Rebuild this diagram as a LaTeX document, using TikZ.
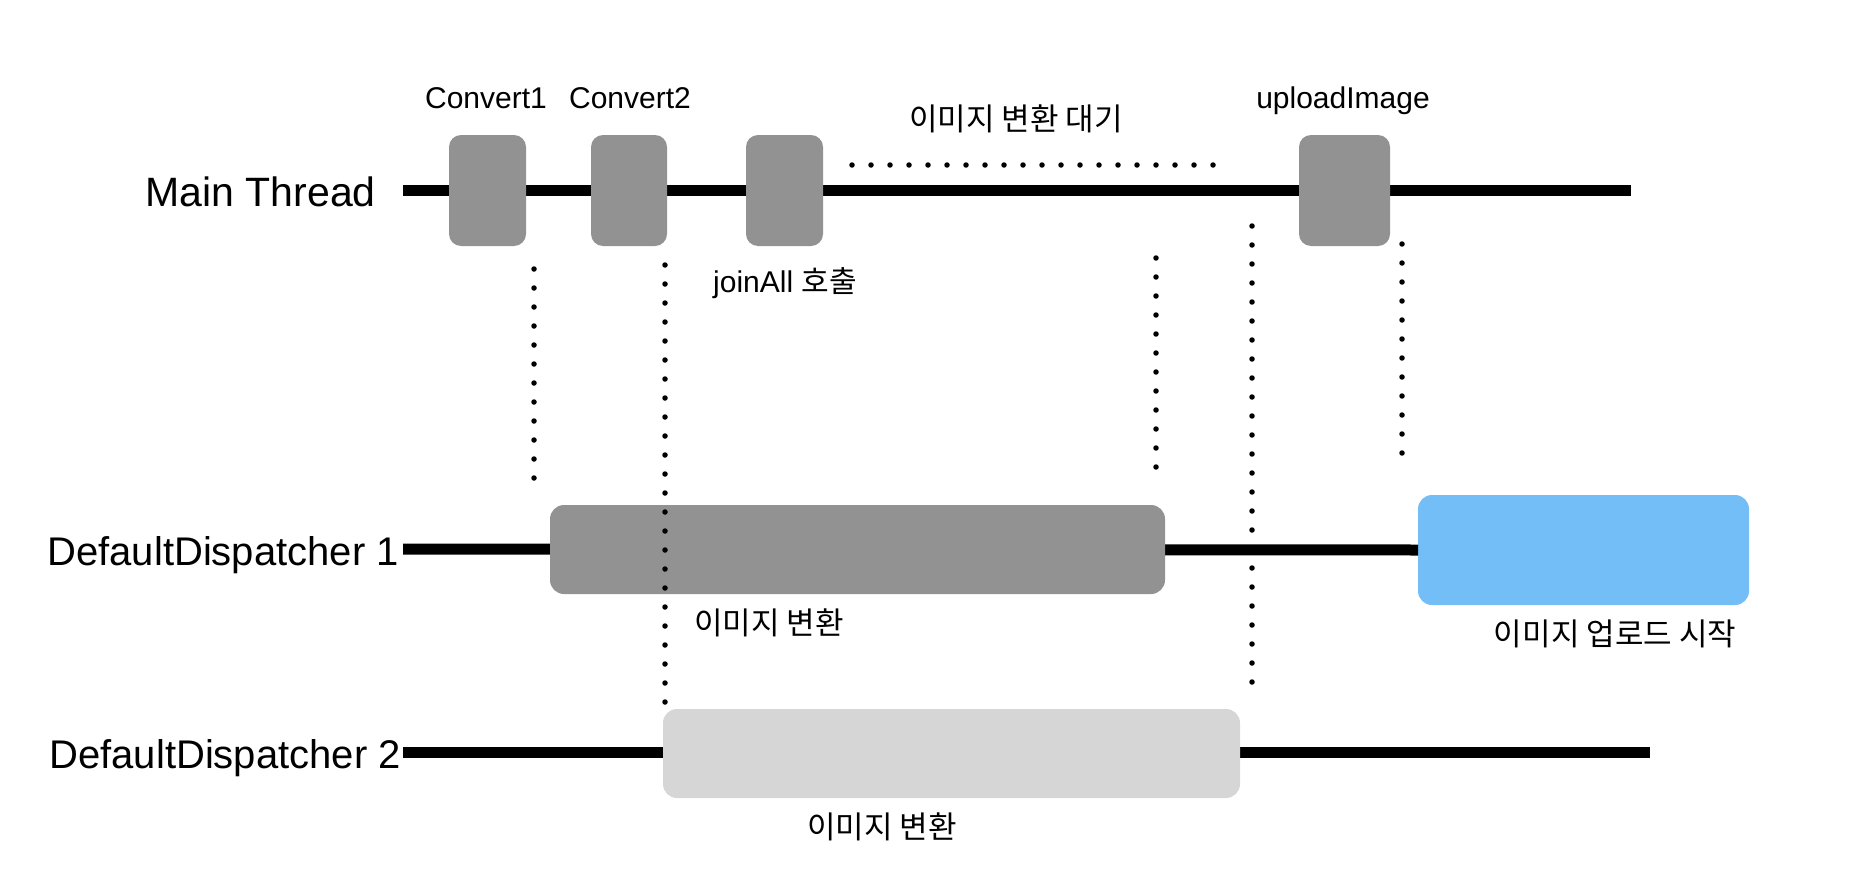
\documentclass[tikz,border=0pt]{standalone}
\usepackage{fontspec}
\setmainfont{Liberation Sans}
\newfontfamily\kr{Noto Sans CJK KR}
\definecolor{boxgray}{RGB}{146,146,146}
\definecolor{boxlight}{RGB}{214,214,214}
\definecolor{boxblue}{RGB}{115,190,247}
\begin{document}
\begin{tikzpicture}[x=1pt,y=-1pt,
  timeline/.style={line width=11pt},
  dotline/.style={line width=5.5pt,line cap=round,dash pattern=on 0pt off 19pt},
  task/.style={fill=boxgray,rounded corners=12pt,inner sep=0pt,outer sep=0pt},
  bigtask/.style={rounded corners=14pt,inner sep=0pt,outer sep=0pt},
  rowlabel/.style={font=\fontsize{40}{48}\selectfont,inner sep=0pt,anchor=base east},
  small/.style={font=\fontsize{30}{36}\selectfont,inner sep=0pt},
  krlabel/.style={font=\fontsize{31}{37}\selectfont\kr,inner sep=0pt}]
\useasboundingbox (0,0) rectangle (1852,878);

% timeline end points
\coordinate (mtS) at (403,190);
\coordinate (mtE) at (1631,190);
\coordinate (d1S) at (403,549);
\coordinate (d2S) at (403,752);
\coordinate (d2E) at (1650,752);

% row labels
\node[rowlabel,font=\fontsize{41}{49}\selectfont] (lmain) at (376,206) {Main Thread};
\node[rowlabel] (ld1) at (399,565) {DefaultDispatcher 1};
\node[rowlabel] (ld2) at (401,768) {DefaultDispatcher 2};

% boxes (nodes)
\node[bigtask,fill=boxblue,minimum width=331pt,minimum height=110pt] (upb) at (1583.5,550) {};

% timelines
\draw[timeline] (mtS) -- (mtE);
\draw[timeline] (d1S) -- (upb.west);
\draw[timeline] (d2S) -- (d2E);

\node[task,minimum width=77pt,minimum height=111pt] (c1) at (487.5,190.5) {};
\node[task,minimum width=76pt,minimum height=111pt] (c2) at (629,190.5) {};
\node[task,minimum width=77pt,minimum height=111pt] (ja) at (784.5,190.5) {};
\node[task,minimum width=91pt,minimum height=111pt] (ui) at (1344.5,190.5) {};
\node[bigtask,fill=boxgray,minimum width=615pt,minimum height=89pt] (g1) at (857.5,549.5) {};
\node[bigtask,fill=boxlight,minimum width=577pt,minimum height=89pt] (g2) at (951.5,753.5) {};

% small labels
\node[small,anchor=base] (tc1) at (486,108) {Convert1};
\node[small,anchor=base] (tc2) at (630,108) {Convert2};
\node[small,anchor=base] (tui) at (1343,108) {uploadImage};
\node[krlabel] (twait) at (1016,119) {이미지 변환 대기};
\node[small] (tja) at (785,283) {joinAll {\kr 호출}};
\node[krlabel] (tg1) at (769,623) {이미지 변환};
\node[krlabel] (tup) at (1615,634) {이미지 업로드 시작};
\node[krlabel] (tg2) at (882,827) {이미지 변환};

% dotted guides
\coordinate (h1) at (852,165);
\coordinate (h2) at (1218,165);
\coordinate (v1a) at (534,269);
\coordinate (v1b) at (534,478);
\coordinate (v2a) at (665,265);
\coordinate (v2b) at (665,704);
\coordinate (v3a) at (1156,258);
\coordinate (v3b) at (1156,470);
\coordinate (v4a) at (1252,226);
\coordinate (v4b) at (1252,684);
\coordinate (v5a) at (1402,244);
\coordinate (v5b) at (1402,456);
\draw[dotline] (h1) -- (h2);
\draw[dotline] (v1a) -- (v1b);
\draw[dotline] (v2a) -- (v2b);
\draw[dotline] (v3a) -- (v3b);
\draw[dotline] (v4a) -- (v4b);
\draw[dotline] (v5a) -- (v5b);
\end{tikzpicture}
\end{document}
